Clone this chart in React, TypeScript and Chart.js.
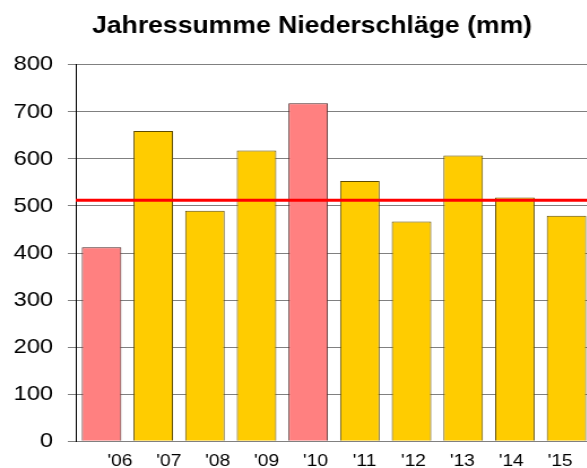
import React, { useEffect, useRef } from "react";
import { Chart, registerables } from "chart.js";

Chart.register(...registerables);

const YEARS = ["'06", "'07", "'08", "'09", "'10", "'11", "'12", "'13", "'14", "'15"];
const PRECIP = [412, 659, 490, 618, 718, 553, 467, 607, 518, 479];
const HIGHLIGHT = [true, false, false, false, true, false, false, false, false, false];
const MEAN = 512;
const Y_TICKS = [0, 100, 200, 300, 400, 500, 600, 700, 800];

const XL_MIN = -0.905;
const XL_MAX = 9.659;

const FONT = "'Liberation Sans', Arial, sans-serif";

export default function App() {
  const ref = useRef<HTMLCanvasElement | null>(null);

  useEffect(() => {
    const canvas = ref.current;
    if (!canvas) return;
    const chart = new Chart(canvas, {
      type: "bar",
      data: {
        labels: YEARS,
        datasets: [
          {
            type: "line",
            label: "Mittel",
            xAxisID: "xl",
            yAxisID: "y",
            data: [
              { x: XL_MIN, y: MEAN },
              { x: XL_MAX, y: MEAN },
            ],
            borderColor: "#FF0000",
            borderWidth: 3,
            pointRadius: 0,
            fill: false,
            order: 0,
          } as any,
          {
            type: "bar",
            label: "Niederschlag",
            xAxisID: "x",
            yAxisID: "y",
            data: PRECIP,
            backgroundColor: HIGHLIGHT.map((h) => (h ? "#FF8080" : "#FFCC00")),
            borderColor: HIGHLIGHT.map((h) => (h ? "#4a2424" : "#5e4b00")),
            borderWidth: 1,
            grouped: false,
            barPercentage: 0.765,
            categoryPercentage: 1,
            order: 1,
          } as any,
        ],
      },
      options: {
        animation: false,
        responsive: false,
        maintainAspectRatio: false,
        devicePixelRatio: 1,
        layout: { padding: 0 },
        plugins: {
          legend: { display: false },
          tooltip: { enabled: false },
          title: {
            display: true,
            text: "Jahressumme Niederschläge (mm)",
            color: "#000",
            font: { family: FONT, size: 23.5, weight: "bold", lineHeight: 1.2 },
            padding: { top: 12.3, bottom: 24.2 },
          },
        },
        scales: {
          x: {
            type: "category",
            display: false,
            offset: true,
          },
          xl: {
            type: "linear",
            position: "bottom",
            offset: false,
            min: XL_MIN,
            max: XL_MAX,
            grid: { display: false, drawTicks: false, tickLength: 0, offset: false },
            border: { display: false },
            afterBuildTicks: (axis: any) => {
              axis.ticks = YEARS.map((_, i) => ({ value: i }));
            },
            afterFit: (axis: any) => {
              axis.height = 26.7;
            },
            ticks: {
              autoSkip: false,
              maxRotation: 0,
              padding: 10,
              color: "#000",
              font: { family: FONT, size: 17 },
              callback: (v: any) => YEARS[Math.round(Number(v))] ?? "",
            },
          },
          y: {
            type: "linear",
            position: "left",
            min: Y_TICKS[0],
            max: Y_TICKS[Y_TICKS.length - 1],
            afterBuildTicks: (axis: any) => {
              axis.ticks = Y_TICKS.map((v) => ({ value: v }));
            },
            afterFit: (axis: any) => {
              axis.width = 67;
            },
            grid: {
              color: "#808080",
              lineWidth: 1,
              drawTicks: true,
              tickLength: 7,
              tickColor: "#808080",
            },
            border: { display: true, color: "#000", width: 1 },
            ticks: {
              padding: 13,
              color: "#000",
              font: { family: FONT, size: 21 },
            },
          },
          yr: {
            type: "linear",
            position: "right",
            display: true,
            grid: { display: false, drawTicks: false },
            border: { display: false },
            ticks: { display: false },
            afterFit: (axis: any) => {
              axis.width = 28;
            },
          },
        },
      } as any,
    });
    return () => chart.destroy();
  }, []);

  return (
    <div
      style={{
        position: "absolute",
        left: 0,
        top: 0,
        width: 587,
        height: 468,
        overflow: "hidden",
        background: "#fff",
      }}
    >
      <canvas
        ref={ref}
        width={552}
        height={468}
        style={{ width: "624px", height: "468px", display: "block" }}
      />
    </div>
  );
}
